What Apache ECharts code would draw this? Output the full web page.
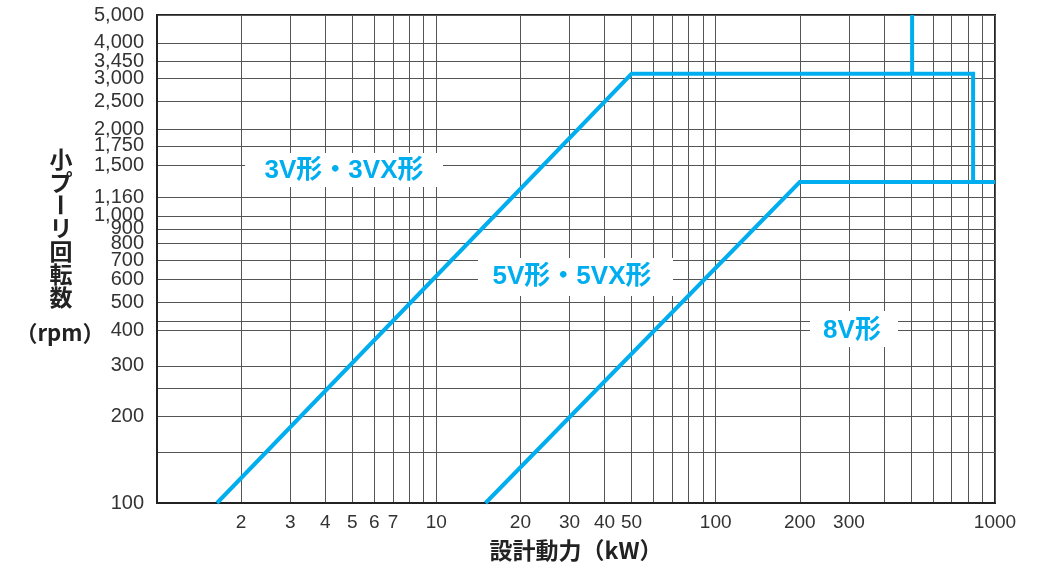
<!DOCTYPE html>
<html><head><meta charset="utf-8">
<script src="https://cdn.jsdelivr.net/npm/echarts@6/dist/echarts.min.js"></script>
<style>html,body{margin:0;padding:0;background:#fff}#c{width:1053px;height:568px}</style>
</head><body><div id="c"></div>
<script>
// ---- data ----
const xTickValues = [1,2,3,4,5,6,7,8,9,10,20,30,40,50,60,70,80,90,100,200,300,400,500,600,700,800,900,1000];
const xLabelValues = [2,3,4,5,6,7,10,20,30,40,50,100,200,300,1000];
const yTickValues = [100,150,200,250,300,400,430,500,600,700,800,900,1000,1160,1500,1750,2000,2500,3000,3450,4000,5000];
const yLabelValues = [100,200,300,400,500,600,700,800,900,1000,1160,1500,1750,2000,2500,3000,3450,4000,5000];
const line3V = [[1.64,100],[50,3120],[835,3120],[835,1310],[1000,1310]];
const line5V = [[15,100],[200,1310],[1000,1310]];
const line500 = [[505,5000],[505,3120]];
const zoneLabels = ['3V形・3VX形','5V形・5VX形','8V形'];
const xName = '設計動力（kW）';
const yNameChars = ['小','プ','ー','リ','回','転','数'];
const yUnit = '（rpm）';

const BLUE = '#00AEEF';
const chart = echarts.init(document.getElementById('c'), null, {renderer:'canvas'});
const fmtY = v => { const n = Math.round(v); return n >= 1000 ? String(n).replace(/\B(?=(\d{3})+(?!\d))/g, ',') : String(n); };
const fmtX = v => String(Math.round(v));

const labelBoxes = [
  {x:245, y:153, w:198, h:34, cx:344, cy:171},
  {x:478, y:258, w:195, h:38, cx:572, cy:277},
  {x:810, y:311, w:88, h:36, cx:852, cy:331}
];
const graphics = [];
zoneLabels.forEach((t, i) => {
  const b = labelBoxes[i];
  graphics.push({type:'rect', z:100, shape:{x:b.x, y:b.y, width:b.w, height:b.h}, style:{fill:'#fff'}});
  graphics.push({type:'text', z:101, x:b.cx, y:b.cy, style:{text:t, fill:BLUE, font:'bold 26px "Liberation Sans","Noto Sans CJK JP",sans-serif', align:'center', verticalAlign:'middle'}});
});
yNameChars.forEach((ch, i) => {
  const cy = 159 + 23 * i;
  graphics.push({type:'text', z:101, x:61, y:cy, rotation: ch === 'ー' ? -Math.PI/2 : 0,
    style:{text:ch, fill:'#222', font:'bold 23px "Noto Sans CJK JP",sans-serif', align:'center', verticalAlign:'middle'}});
});
graphics.push({type:'text', z:101, x:60, y:333, style:{text:yUnit, fill:'#222', font:'bold 22px "Noto Sans CJK JP",sans-serif', align:'center', verticalAlign:'middle'}});

const lineSeries = (data) => ({type:'line', data, showSymbol:false, symbol:'none', silent:true, z:10,
  lineStyle:{color:BLUE, width:4, cap:'butt', join:'miter'}});

chart.setOption({
  animation:false,
  grid:{left:157, right:58, top:15, bottom:65, show:true, borderColor:'#222', borderWidth:2, containLabel:false, outerBoundsMode:'none'},
  xAxis:{type:'log', logBase:10, min:1, max:1000,
    axisLine:{show:true, lineStyle:{color:'#222', width:2}},
    axisTick:{show:false, customValues:xTickValues},
    axisLabel:{customValues:xLabelValues, fontSize:19, color:'#333', fontFamily:'Liberation Sans', margin:10, formatter:fmtX},
    splitLine:{show:true, lineStyle:{color:'#555', width:1}},
    name:xName, nameLocation:'middle', nameGap:36,
    nameTextStyle:{fontSize:23, fontWeight:'bold', color:'#222', fontFamily:'Noto Sans CJK JP'}
  },
  yAxis:{type:'log', logBase:10, min:100, max:5000,
    axisLine:{show:true, lineStyle:{color:'#222', width:2}},
    axisTick:{show:false, customValues:yTickValues},
    axisLabel:{customValues:yLabelValues, fontSize:20, color:'#333', fontFamily:'Liberation Sans', margin:13, formatter:fmtY},
    splitLine:{show:true, lineStyle:{color:'#555', width:1}}
  },
  graphic:graphics,
  series:[lineSeries(line3V), lineSeries(line5V), lineSeries(line500)]
});
</script></body></html>
